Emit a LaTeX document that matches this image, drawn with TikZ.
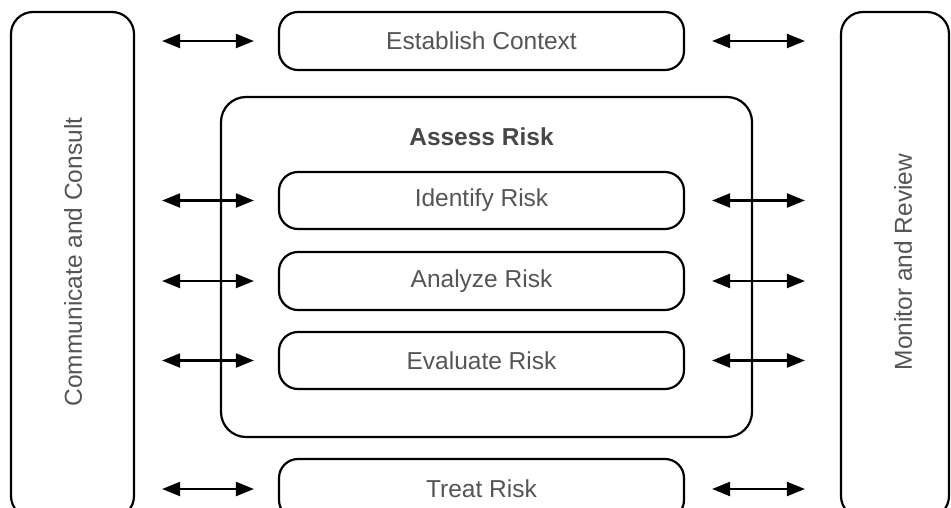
\documentclass[tikz,border=0pt]{standalone}
\usepackage{fontspec}
\setmainfont{Liberation Sans}
\usetikzlibrary{arrows.meta}
\definecolor{txtgray}{HTML}{555555}
\tikzset{
  rbox/.style={draw=black, line width=2.2pt, rounded corners=19pt, inner sep=0pt, outer sep=1.1pt},
  rowbox/.style={rbox, minimum width=405pt, minimum height=57pt},
  sidebox/.style={rbox, rounded corners=22pt},
  lbl/.style={text=txtgray, font=\fontsize{24.5}{28}\selectfont, inner sep=0pt},
  biarrow/.style={line width=2.2pt, {Triangle[length=18pt,width=14pt]}-{Triangle[length=18pt,width=14pt]}},
  leftarr/.style={biarrow, shorten <=27pt, shorten >=24pt},
  rightarr/.style={biarrow, shorten <=27pt, shorten >=35pt}
}
\begin{document}
\begin{tikzpicture}[x=1pt,y=-1pt]
\useasboundingbox (0,0) rectangle (951,508);
\clip (0,0) rectangle (951,508);
\fill[white] (0,0) rectangle (951,508);
% side boxes
\node[sidebox, minimum width=123pt, minimum height=506pt] (L) at (72.5,265) {};
\node[sidebox, minimum width=108pt, minimum height=506pt] (R) at (895,265) {};
\node[lbl, rotate=90] (Ltxt) at (73,262) {Communicate and Consult};
\node[lbl, rotate=90] (Rtxt) at (903,262) {Monitor and Review};
% assess box
\node[rbox, rounded corners=25pt, minimum width=531pt, minimum height=340pt] (A) at (486.5,267) {};
\node[lbl, font=\fontsize{24.5}{28}\selectfont\bfseries, text=black!72] (Atxt) at (481.5,136.5) {Assess Risk};
% row boxes
\node[rowbox, minimum height=58pt] (E) at (481.5,41) {};
\node[lbl] at (E) {Establish Context};
\node[rowbox] (I) at (481.5,200.5) {};
\node[lbl] at (I) {Identify Risk};
\node[rowbox, minimum height=58pt] (N) at (481.5,281) {};
\node[lbl] at (N) {Analyze Risk};
\node[rowbox] (V) at (481.5,360.5) {};
\node[lbl] at (V) {Evaluate Risk};
\node[rowbox, minimum height=60pt] (T) at (481.5,489) {};
\node[lbl] at (T) {Treat Risk};
% arrows
\foreach \b in {E,I,N,V,T}{
  \draw[leftarr] (L.east |- \b.west) -- (\b.west);
  \draw[rightarr] (\b.east) -- (R.west |- \b.east);
}
\end{tikzpicture}
\end{document}
